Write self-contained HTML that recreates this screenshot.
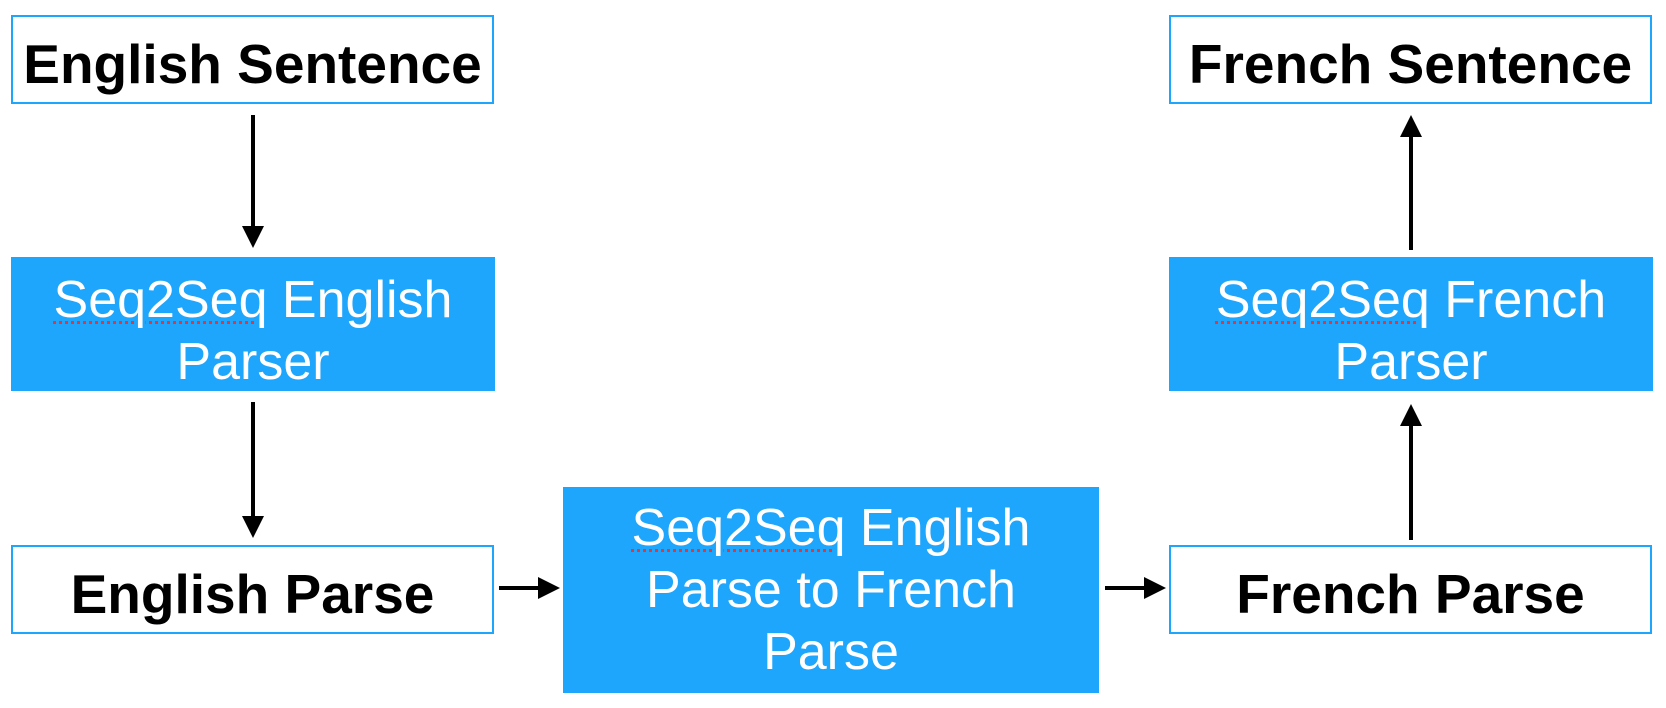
<!DOCTYPE html>
<html><head><style>
body{margin:0;width:1666px;height:708px;background:#fff;position:relative;overflow:hidden;font-family:"Liberation Sans",Arial,sans-serif}
.b{position:absolute;box-sizing:border-box;display:flex;align-items:center;justify-content:center;text-align:center}
.w{border:2px solid #1ea5fc;background:#fff;color:#000;font-weight:bold;font-size:55px;padding-top:8px}
.f{background:#1ea5fc;color:#fff;font-size:52px;line-height:62px}
.p{padding-top:14px}
u{text-decoration:underline dotted #e33;text-decoration-thickness:3px;text-underline-offset:4px}
</style></head><body>
<div class="b w" style="left:11px;top:15px;width:483px;height:89px">English Sentence</div>
<div class="b f p" style="left:11px;top:257px;width:484px;height:134px"><div><u>Seq2Seq</u> English<br>Parser</div></div>
<div class="b w" style="left:11px;top:545px;width:483px;height:89px">English Parse</div>
<div class="b f" style="left:563px;top:487px;width:536px;height:206px"><div><u>Seq2Seq</u> English<br>Parse to French<br>Parse</div></div>
<div class="b w" style="left:1169px;top:545px;width:483px;height:89px">French Parse</div>
<div class="b f p" style="left:1169px;top:257px;width:484px;height:134px"><div><u>Seq2Seq</u> French<br>Parser</div></div>
<div class="b w" style="left:1169px;top:15px;width:483px;height:89px">French Sentence</div>
<svg width="1666" height="708" style="position:absolute;left:0;top:0">
<g stroke="#000" stroke-width="4">
<line x1="253" y1="115" x2="253" y2="228"/>
<line x1="253" y1="402" x2="253" y2="518"/>
<line x1="1411" y1="540" x2="1411" y2="424"/>
<line x1="1411" y1="250" x2="1411" y2="135"/>
<line x1="499" y1="588" x2="540" y2="588"/>
<line x1="1105" y1="588" x2="1146" y2="588"/>
</g>
<g fill="#000">
<polygon points="242,226 264,226 253,248"/>
<polygon points="242,516 264,516 253,538"/>
<polygon points="1400,426 1422,426 1411,404"/>
<polygon points="1400,137 1422,137 1411,115"/>
<polygon points="538,577 538,599 560,588"/>
<polygon points="1144,577 1144,599 1166,588"/>
</g>
</svg>
</body></html>
